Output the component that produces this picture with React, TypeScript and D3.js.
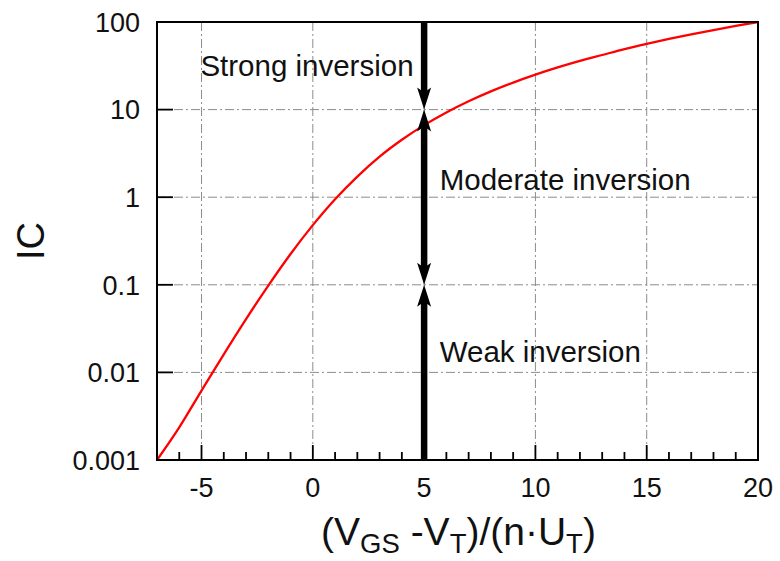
import React from "react";
import * as d3 from "d3";

// Values
const xValues = [-7, -6, -5, -4, -3, -2, -1, 0, 1, 2, 3, 4, 5, 6, 7, 8, 9, 10, 11, 12, 13, 14, 15, 16, 17, 18, 19, 20];
const icValues = [0.001, 0.00236, 0.0062, 0.0161, 0.0406, 0.0981, 0.225, 0.48, 0.949, 1.72, 2.9, 4.52, 6.65, 9.29, 12.46, 16.15, 20.35, 25.07, 30.3, 36.0, 42.0, 49.0, 56.25, 64.0, 72.25, 81.0, 90.25, 100.0];
const xTickLabels = [-5, 0, 5, 10, 15, 20];
const xMinorTicks = [-6, -4, -3, -2, -1, 1, 2, 3, 4, 6, 7, 8, 9, 11, 12, 13, 14, 16, 17, 18, 19];
const xGrid = [-5, 0, 5, 10, 15];
const yTicks = [100, 10, 1, 0.1, 0.01, 0.001];
const yTickLabels = ["100", "10", "1", "0.1", "0.01", "0.001"];
const yGrid = [10, 1, 0.1, 0.01];
const boundaryX = 5;
const boundaryIC = [10, 0.1];
const regionLabels = [
  { text: "Strong inversion", x: -5.05, ic: 24 },
  { text: "Moderate inversion", x: 5.7, ic: 1.21 },
  { text: "Weak inversion", x: 5.7, ic: 0.0131 },
];

const W = 780;
const H = 561;
const L = 157, R = 758, T = 22, B = 460;
const FONT = "'Liberation Sans', Arial, Helvetica, sans-serif";

export default function App() {
  const x = d3.scaleLinear().domain([-7, 20]).range([L, R]);
  const y = d3.scaleLog().domain([0.001, 100]).range([B, T]);

  const pts: [number, number][] = xValues.map((v, i) => [v, icValues[i]]);
  const line = d3
    .line<[number, number]>()
    .x((d) => x(d[0]))
    .y((d) => y(d[1]))
    .curve(d3.curveMonotoneX);

  const bx = x(boundaryX);
  const aLen = 22;
  const aHalf = 7;
  const notch = 5;
  const arrowDown = (tipY: number) =>
    `M${bx},${tipY} L${bx - aHalf},${tipY - aLen} L${bx},${tipY - aLen + notch} L${bx + aHalf},${tipY - aLen} Z`;
  const arrowUp = (tipY: number) =>
    `M${bx},${tipY} L${bx - aHalf},${tipY + aLen} L${bx},${tipY + aLen - notch} L${bx + aHalf},${tipY + aLen} Z`;

  const y10 = y(boundaryIC[0]);
  const y01 = y(boundaryIC[1]);
  const segs: [number, number][] = [
    [T, y10 - aLen + notch + 1],
    [y10 + aLen - notch - 1, y01 - aLen + notch + 1],
    [y01 + aLen - notch - 1, B],
  ];

  return (
    <svg
      width={W}
      height={H}
      style={{ position: "absolute", left: 0, top: 0, background: "#fff" }}
      fontFamily={FONT}
    >
      <rect x={0} y={0} width={W} height={H} fill="#fff" />
      {/* grid */}
      <g stroke="#8c8c8c" strokeWidth={1} strokeDasharray="9,3,2,3">
        {xGrid.map((v) => (
          <line key={"gx" + v} x1={x(v)} x2={x(v)} y1={T} y2={B} />
        ))}
        {yGrid.map((v) => (
          <line key={"gy" + v} x1={L} x2={R} y1={y(v)} y2={y(v)} />
        ))}
      </g>
      {/* ticks */}
      <g stroke="#000" strokeWidth={1.8}>
        {xMinorTicks.map((v) => (
          <line key={"mt" + v} x1={x(v)} x2={x(v)} y1={B} y2={B - 8} />
        ))}
        {xGrid.map((v) => (
          <line key={"Mt" + v} x1={x(v)} x2={x(v)} y1={B} y2={B - 15} />
        ))}
        {yGrid.map((v) => (
          <line key={"yt" + v} x1={L} x2={L + 16} y1={y(v)} y2={y(v)} />
        ))}
      </g>
      {/* curve */}
      <path d={line(pts) || ""} fill="none" stroke="#ff0000" strokeWidth={2.3} />
      {/* frame */}
      <rect x={L} y={T} width={R - L} height={B - T} fill="none" stroke="#000" strokeWidth={2} />
      {/* boundary line with arrows */}
      <g fill="#000" stroke="none">
        {segs.map((s, i) => (
          <line key={"seg" + i} x1={bx} x2={bx} y1={s[0]} y2={s[1]} stroke="#000" strokeWidth={6.5} />
        ))}
        <path d={arrowDown(y10)} />
        <path d={arrowUp(y10)} />
        <path d={arrowDown(y01)} />
        <path d={arrowUp(y01)} />
      </g>
      {/* tick labels */}
      <g fontSize={27} fill="#111">
        {xTickLabels.map((v) => (
          <text key={"xl" + v} x={x(v)} y={497} textAnchor="middle">
            {v}
          </text>
        ))}
        {yTicks.map((v, i) => (
          <text key={"yl" + v} x={140} y={y(v)} dy="0.36em" textAnchor="end">
            {yTickLabels[i]}
          </text>
        ))}
      </g>
      {/* region labels */}
      <g fontSize={29.5} fill="#111">
        {regionLabels.map((r) => (
          <text key={r.text} x={x(r.x)} y={y(r.ic)}>
            {r.text}
          </text>
        ))}
      </g>
      {/* axis titles */}
      <text x={44} y={241} fontSize={38} fill="#111" textAnchor="middle" transform="rotate(-90 44 241)">
        IC
      </text>
      <text x={(L + R) / 2 + 1} y={545} fontSize={39} fill="#111" textAnchor="middle" style={{ whiteSpace: "pre" }}>
        <tspan>(V</tspan>
        <tspan fontSize={27.5} dy={8}>GS</tspan>
        <tspan dy={-8}> -V</tspan>
        <tspan fontSize={27.5} dy={8}>T</tspan>
        <tspan dy={-8}>)/(n·U</tspan>
        <tspan fontSize={27.5} dy={8}>T</tspan>
        <tspan dy={-8}>)</tspan>
      </text>
    </svg>
  );
}
